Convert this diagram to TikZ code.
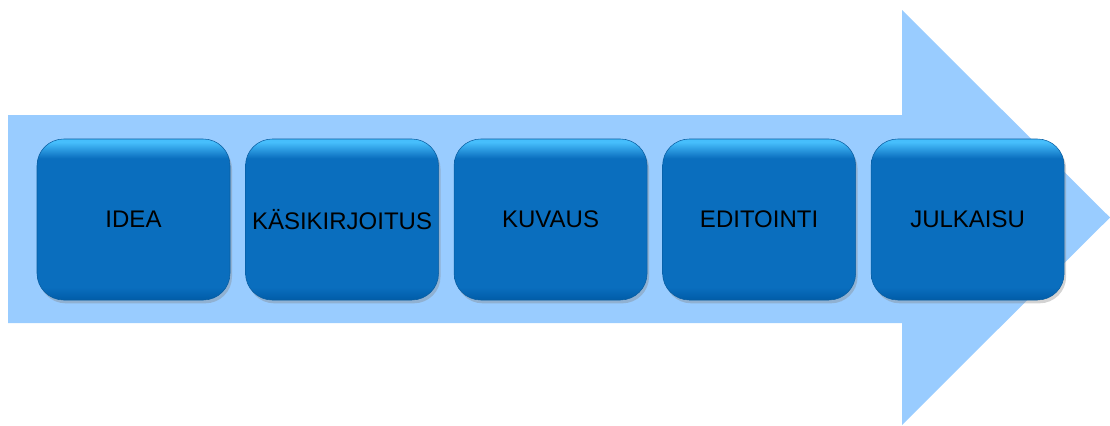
\documentclass[tikz,border=0pt]{standalone}
\usepackage{fontspec}
\setmainfont{Liberation Sans}
\usetikzlibrary{positioning,shadows}
\definecolor{arrowblue}{RGB}{153,204,255}
\definecolor{boxhi}{RGB}{70,190,252}
\definecolor{boxmain}{RGB}{10,110,190}
\definecolor{boxlo}{RGB}{0,92,168}
\pgfdeclareverticalshading{boxshade}{100bp}{color(0bp)=(boxlo); color(25bp)=(boxlo); color(29bp)=(boxmain); color(69bp)=(boxmain); color(74bp)=(boxhi); color(75bp)=(boxhi); color(100bp)=(boxhi)}
\begin{document}
\begin{tikzpicture}[
                            x=0.75pt, y=-0.75pt,
                            node distance=11.25pt,
                            stage/.style={rectangle, rounded corners=20pt, minimum width=144.75pt, minimum height=120.75pt, inner sep=0pt,
                                shading=boxshade, draw=boxmain!85!black, line width=0.4pt,
                                drop shadow={opacity=0.35, shadow xshift=1.5pt, shadow yshift=-2.5pt},
                                font=\fontsize{18}{20}\selectfont, text=black}
                            ]

                            \useasboundingbox (0,0) rectangle (1110,425);
                            \fill[arrowblue] (8,115) -- (902,115) -- (902,10) -- (1110,217.5) -- (902,425) -- (902,323) -- (8,323) -- cycle;

                            \node [stage] (idea) at (133.5,219.5) {IDEA};
                            \node [stage, right = of idea] (kasikirjoitus) {KÄSIKIRJOITUS};
                            \node [stage, right = of kasikirjoitus] (kuvaus) {KUVAUS};
                            \node [stage, right = of kuvaus] (editointi) {EDITOINTI};
                            \node [stage, right = of editointi] (julkaisu) {JULKAISU};
                        \end{tikzpicture}
\end{document}
